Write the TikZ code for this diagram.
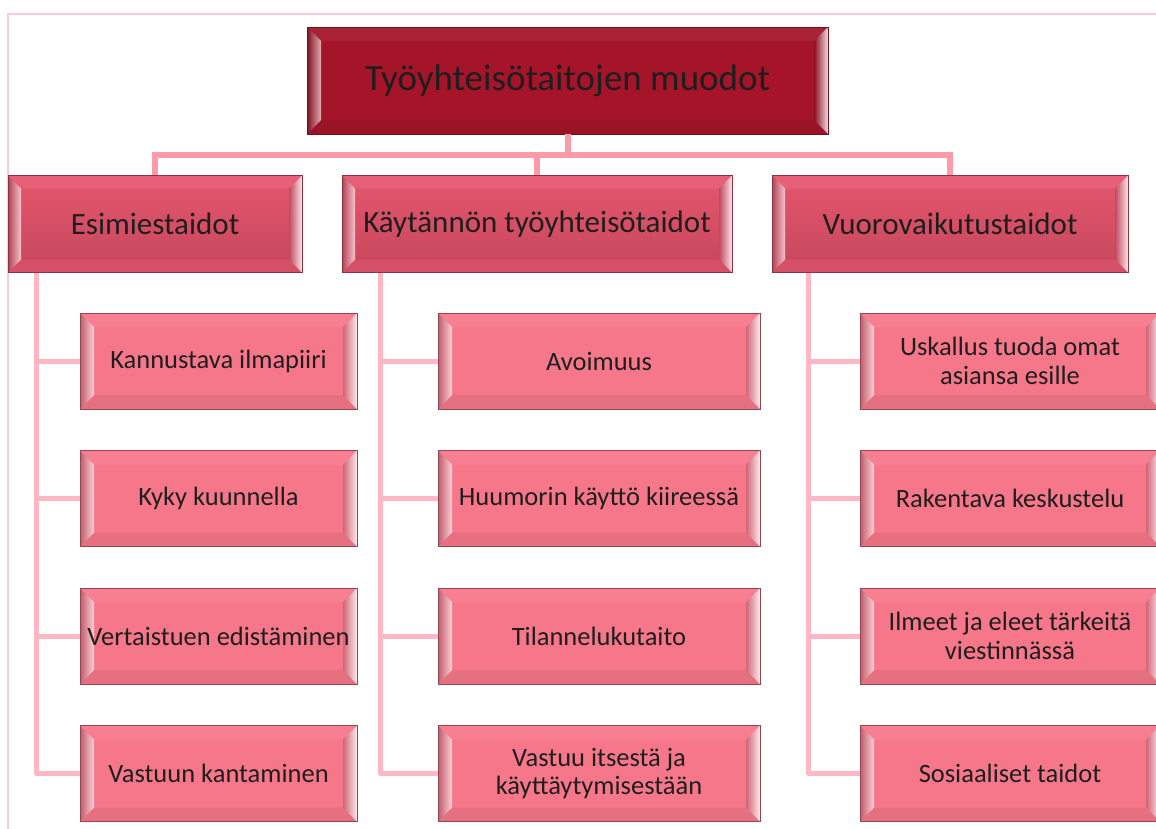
\documentclass[tikz,border=0pt]{standalone}
\usepackage{fontspec}
\setmainfont{Carlito}
\usepackage{xcolor}

\definecolor{viini}{HTML}{A51429}
\definecolor{ruusu}{HTML}{E5566E}
\definecolor{ruusutumma}{HTML}{C5475C}
\definecolor{lohi}{HTML}{F7778A}
\definecolor{runkoviiva}{HTML}{FF9AA9}
\definecolor{oksaviiva}{HTML}{FFB8C3}
\definecolor{kehys}{HTML}{FFCAD3}
\definecolor{teksti}{HTML}{1E1E1E}

\newcommand\viiste[2]{%
\path (path picture bounding box.north west) coordinate (pa)
      (path picture bounding box.north east) coordinate (pb)
      (path picture bounding box.south east) coordinate (pc)
      (path picture bounding box.south west) coordinate (pd)
      ([xshift=#2pt,yshift=-#2pt]path picture bounding box.north west) coordinate (qa)
      ([xshift=-#2pt,yshift=-#2pt]path picture bounding box.north east) coordinate (qb)
      ([xshift=-#2pt,yshift=#2pt]path picture bounding box.south east) coordinate (qc)
      ([xshift=#2pt,yshift=#2pt]path picture bounding box.south west) coordinate (qd);
\fill[#1!94!white] (pa) -- (pb) -- (qb) -- (qa) -- cycle;
\fill[#1!93!black] (pd) -- (pc) -- (qc) -- (qd) -- cycle;
\shade[left color=#1!78!black, right color=#1!35!white] (pa) -- (qa) -- (qd) -- (pd) -- cycle;
\shade[left color=#1!85!black, right color=#1!15!white] (qb) -- (pb) -- (pc) -- (qc) -- cycle;
}

\begin{document}
\begin{tikzpicture}[x=1pt,y=-1pt,
  paa/.style={rectangle, draw=viini!70!black, fill=viini, text=teksti, inner sep=0pt,
    minimum width=521pt, minimum height=107pt, font=\fontsize{37}{40}\selectfont,
    path picture={\viiste{viini}{14}}},
  lohko/.style={rectangle, draw=ruusutumma!70!black, top color=ruusu, bottom color=ruusutumma,
    text=teksti, inner sep=0pt, minimum height=97pt, font=\fontsize{31}{34}\selectfont,
    path picture={\viiste{ruusu}{13}}},
  lapsi/.style={rectangle, draw=lohi!60!black, fill=lohi, text=teksti, inner sep=0pt,
    minimum width=277pt, minimum height=96pt, align=center,
    font=\fontsize{26.5}{28.5}\selectfont, path picture={\viiste{lohi}{14}}},
  runko/.style={draw=runkoviiva, line width=6pt},
  oksa/.style={draw=oksaviiva, line width=5pt, line join=round}]
\useasboundingbox (0,0) rectangle (1156,828);
\clip (0,0) rectangle (1156,828);
\fill[white] (0,0) rectangle (1156,828);
\draw[kehys, line width=1.2pt] (8,14) rectangle (1180,850);

\node[paa] (paa) at (567.5,80.5) {Työyhteisötaitojen muodot};
\node[lohko, minimum width=294pt] (esim) at (155,224) {Esimiestaidot};
\node[lohko, minimum width=390pt] (kayt) at (537,224) {Käytännön työyhteisötaidot};
\node[lohko, minimum width=356pt] (vuoro) at (950,224) {Vuorovaikutustaidot};

\node[lapsi] (e1) at (218.5,361) {Kannustava ilmapiiri};
\node[lapsi] (e2) at (218.5,498.5) {Kyky kuunnella};
\node[lapsi] (e3) at (218.5,636) {Vertaistuen edistäminen};
\node[lapsi] (e4) at (218.5,773.5) {Vastuun kantaminen};
\node[lapsi, minimum width=322pt] (k1) at (599,361) {Avoimuus};
\node[lapsi, minimum width=322pt] (k2) at (599,498.5) {Huumorin käyttö kiireessä};
\node[lapsi, minimum width=322pt] (k3) at (599,636) {Tilannelukutaito};
\node[lapsi, minimum width=322pt] (k4) at (599,773.5) {Vastuu itsestä ja\\käyttäytymisestään};
\node[lapsi, minimum width=300pt] (v1) at (1010,361) {Uskallus tuoda omat\\asiansa esille};
\node[lapsi, minimum width=300pt] (v2) at (1010,498.5) {Rakentava keskustelu};
\node[lapsi, minimum width=300pt] (v3) at (1010,636) {Ilmeet ja eleet tärkeitä\\viestinnässä};
\node[lapsi, minimum width=300pt] (v4) at (1010,773.5) {Sosiaaliset taidot};

\draw[runko] (paa.south) -- ++(0,21) -| (esim.north);
\draw[runko] (paa.south) -- ++(0,21) -| (kayt.north);
\draw[runko] (paa.south) -- ++(0,21) -| (vuoro.north);

\draw[oksa] ([xshift=29pt]esim.south west) |- (e1.west);
\draw[oksa] ([xshift=29pt]esim.south west) |- (e2.west);
\draw[oksa] ([xshift=29pt]esim.south west) |- (e3.west);
\draw[oksa] ([xshift=29pt]esim.south west) |- (e4.west);
\draw[oksa] ([xshift=39pt]kayt.south west) |- (k1.west);
\draw[oksa] ([xshift=39pt]kayt.south west) |- (k2.west);
\draw[oksa] ([xshift=39pt]kayt.south west) |- (k3.west);
\draw[oksa] ([xshift=39pt]kayt.south west) |- (k4.west);
\draw[oksa] ([xshift=37pt]vuoro.south west) |- (v1.west);
\draw[oksa] ([xshift=37pt]vuoro.south west) |- (v2.west);
\draw[oksa] ([xshift=37pt]vuoro.south west) |- (v3.west);
\draw[oksa] ([xshift=37pt]vuoro.south west) |- (v4.west);
\end{tikzpicture}
\end{document}
